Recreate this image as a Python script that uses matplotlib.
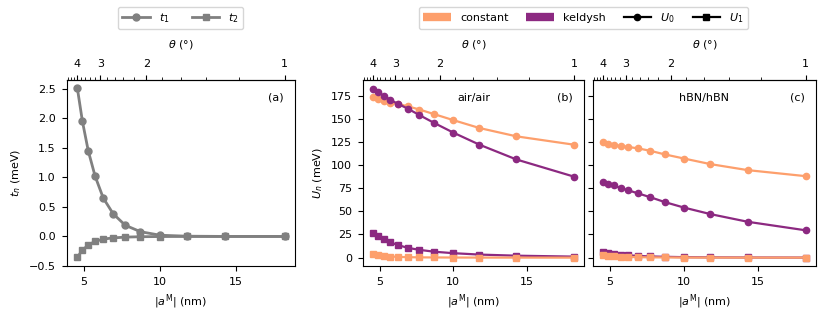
import numpy as np
import matplotlib
matplotlib.use("Agg")
import matplotlib.pyplot as plt
from matplotlib.lines import Line2D
from matplotlib.ticker import MultipleLocator, FixedLocator

plt.rcParams['font.size'] = 8
plt.rcParams['xtick.major.pad'] = 4.5
plt.rcParams['ytick.major.pad'] = 4.5

# twist angles (deg) and lattice constant (nm)
theta = [4.0, 3.727, 3.455, 3.182, 2.909, 2.636, 2.364, 2.091, 1.818, 1.545, 1.273, 1.0]
alat = 0.318

# hopping (meV)
t1 = [2.51, 1.95, 1.45, 1.02, 0.65, 0.385, 0.19, 0.08, 0.02, 0.004, 0.0, 0.0]
t2 = [-0.35, -0.235, -0.145, -0.085, -0.045, -0.025, -0.012, -0.005, -0.002, 0.0, 0.0, 0.0]

# interactions (meV), air/air
U0_const_air = [173.5, 171.5, 169.5, 167.5, 166, 163.5, 160, 155, 148.5, 140, 131, 122]
U0_keld_air = [182, 178.5, 175, 170.5, 166, 161, 154, 145.5, 135, 122, 106, 87.5]
U1_const_air = [3.5, 2.5, 1.8, 1.2, 0.8, 0.5, 0.3, 0.2, 0.1, 0.05, 0.02, 0.0]
U1_keld_air = [27, 23.2, 19.8, 16.6, 13.5, 10.6, 8.4, 6.4, 4.8, 3.3, 2.1, 1.1]

# hBN/hBN
U0_const_hbn = [124.5, 123, 122, 120.5, 119.5, 118, 115.5, 111.5, 107, 101, 94.5, 88]
U0_keld_hbn = [81.5, 80, 78, 75.2, 72.6, 69.4, 65.4, 60, 54, 47, 38.7, 29.5]
U1_const_hbn = [2.5, 2.0, 1.5, 1.1, 0.8, 0.5, 0.3, 0.2, 0.1, 0.05, 0.02, 0.0]
U1_keld_hbn = [6.0, 5.0, 4.0, 3.2, 2.5, 1.8, 1.3, 0.9, 0.5, 0.3, 0.15, 0.05]

aM = alat / (2 * np.sin(np.radians(np.array(theta)) / 2))

c_const = '#fd9f6c'
c_keld = '#8c2981'
c_t = 'gray'
lw = 1.6
ms = 4.5


def a2th(x):
    x = np.asarray(x, dtype=float)
    with np.errstate(divide='ignore', invalid='ignore'):
        return np.degrees(alat / np.where(x > 0.01, x, 0.01))


def th2a(t):
    t = np.asarray(t, dtype=float)
    with np.errstate(divide='ignore', invalid='ignore'):
        return alat / np.radians(np.where(t > 0.01, t, 0.01))


def top_axis(ax):
    sec = ax.secondary_xaxis('top', functions=(a2th, th2a))
    sec.xaxis.set_major_locator(FixedLocator([1, 2, 3, 4]))
    sec.xaxis.set_minor_locator(MultipleLocator(0.2))
    sec.set_xlabel(r'$\theta$ (°)', labelpad=8)
    return sec


fig = plt.figure(figsize=(8.3, 3.17), dpi=100)
bot, h = 0.161, 0.587
axa = fig.add_axes([0.0807, bot, 0.2747, h])
axb = fig.add_axes([0.4373, bot, 0.2663, h])
axc = fig.add_axes([0.7145, bot, 0.2685, h], sharey=axb)

# (a)
axa.plot(aM, t1, color=c_t, lw=2, marker='o', ms=5)
axa.plot(aM, t2, color=c_t, lw=2, marker='s', ms=5)
axa.set_xlabel(r'$|a^\mathrm{M}|$ (nm)')
axa.set_ylabel(r'$t_n$ (meV)')
axa.set_ylim(-0.5, 2.65)
axa.yaxis.set_major_locator(MultipleLocator(0.5))
axa.text(0.95, 0.93, '(a)', transform=axa.transAxes, ha='right', va='top')
top_axis(axa)
fig.legend(handles=[Line2D([], [], color=c_t, lw=2, marker='o', ms=5, label=r'$t_1$'),
                    Line2D([], [], color=c_t, lw=2, marker='s', ms=5, label=r'$t_2$')],
           ncol=2, loc='upper center', bbox_to_anchor=(0.2175, 0.997), handlelength=2.5,
           columnspacing=2.0)

# (b), (c)
for ax, data, lab, tag in [(axb, (U0_const_air, U0_keld_air, U1_const_air, U1_keld_air), 'air/air', '(b)'),
                           (axc, (U0_const_hbn, U0_keld_hbn, U1_const_hbn, U1_keld_hbn), 'hBN/hBN', '(c)')]:
    u0c, u0k, u1c, u1k = data
    ax.plot(aM, u0c, color=c_const, lw=lw, marker='o', ms=ms)
    ax.plot(aM, u0k, color=c_keld, lw=lw, marker='o', ms=ms)
    ax.plot(aM, u1k, color=c_keld, lw=lw, marker='s', ms=ms)
    ax.plot(aM, u1c, color=c_const, lw=lw, marker='s', ms=ms)
    ax.set_xlabel(r'$|a^\mathrm{M}|$ (nm)')
    ax.text(0.5, 0.93, lab, transform=ax.transAxes, ha='center', va='top')
    ax.text(0.95, 0.93, tag, transform=ax.transAxes, ha='right', va='top')
    top_axis(ax)

axb.set_ylabel(r'$U_n$ (meV)')
axb.yaxis.set_major_locator(MultipleLocator(25))
axb.set_ylim(-9, 192)
plt.setp(axc.get_yticklabels(), visible=False)

handles = [Line2D([], [], color=c_const, lw=6, solid_capstyle='butt', label='constant'),
           Line2D([], [], color=c_keld, lw=6, solid_capstyle='butt', label='keldysh'),
           Line2D([], [], color='black', lw=lw, marker='o', ms=ms, label=r'$U_0$'),
           Line2D([], [], color='black', lw=lw, marker='s', ms=ms, label=r'$U_1$')]
fig.legend(handles=handles, ncol=4, loc='upper center', bbox_to_anchor=(0.703, 0.997),
           handlelength=2.5, columnspacing=1.6)

fig.savefig('out.png', dpi=100)
